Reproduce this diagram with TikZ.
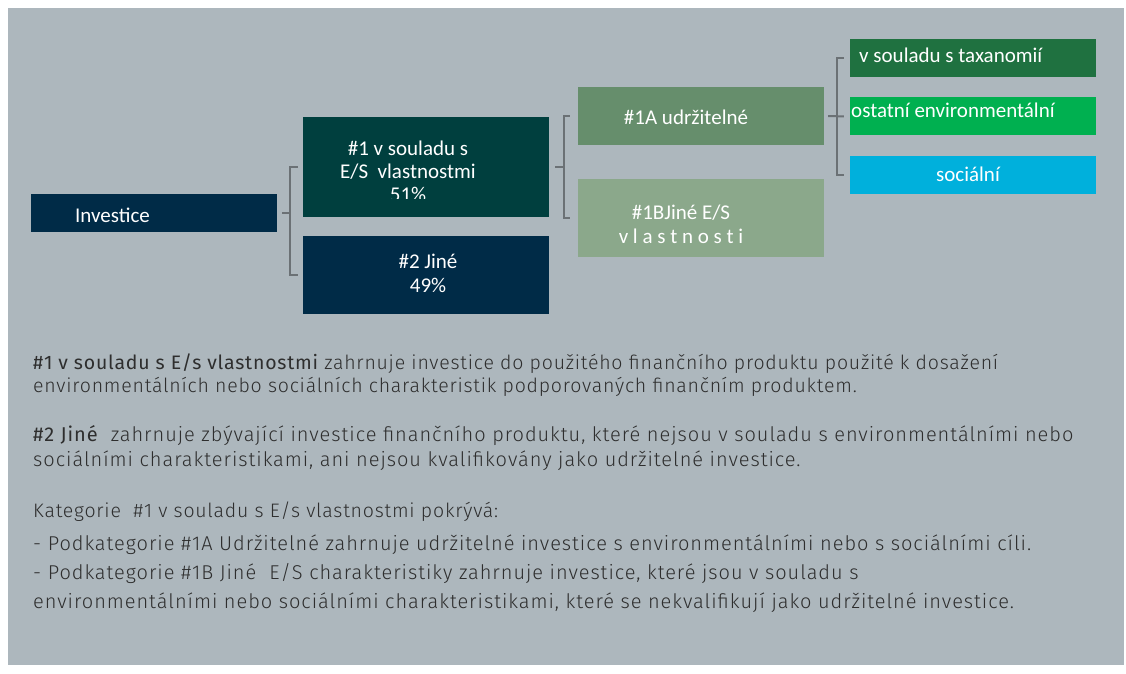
\documentclass[tikz,border=0pt]{standalone}
\usepackage{fontspec}
\setmainfont{Carlito}
\newfontfamily\bodyfont{Fira Sans Light}[LetterSpace=4.8]
\newfontfamily\bodymed{Fira Sans}[LetterSpace=4.8]
\newfontfamily\bodyfontsm{Fira Sans Light}[LetterSpace=4]
\newfontfamily\bodymedsm{Fira Sans}[LetterSpace=4]
\usetikzlibrary{positioning,calc}

\definecolor{bggray}{HTML}{ADB7BD}
\definecolor{navy}{HTML}{002B47}
\definecolor{darkteal}{HTML}{003F3E}
\definecolor{midgreen}{HTML}{668E6C}
\definecolor{palegreen}{HTML}{8BA88B}
\definecolor{taxgreen}{HTML}{1F7140}
\definecolor{envgreen}{HTML}{00B050}
\definecolor{socblue}{HTML}{00B0DC}
\definecolor{linkgray}{HTML}{6B7175}
\definecolor{bodytext}{HTML}{2E2E2E}

\tikzset{
  box/.style={rectangle, fill=#1, minimum width=246pt, inner sep=0pt},
  boxtext/.style={text=white, inner sep=0pt, align=center, font=\fontsize{21}{23}\selectfont},
  link/.style={draw=linkgray, line width=2pt},
  bodyline/.style={anchor=base west, inner sep=0pt, text=bodytext, font=\bodyfont\fontsize{20}{23}\selectfont},
  bodysmall/.style={bodyline, font=\bodyfontsm\fontsize{19.5}{23}\selectfont}
}

\begin{document}
\begin{tikzpicture}[x=1pt,y=-1pt]
  \useasboundingbox (0,0) rectangle (1126,673);
  \fill[bggray] (8,8) rectangle (1124,665);

  % boxes
  \node[box=navy, minimum height=38pt] (inv) at (154,213) {};
  \node[box=darkteal, minimum height=100pt] (es) at (426,167) {};
  \node[box=navy, minimum height=78pt] (jine) [below=19pt of es] {};
  \node[box=midgreen, minimum height=58pt] (a1) at (701,116) {};
  \node[box=palegreen, minimum height=78pt] (b1) [below=34pt of a1] {};
  \node[box=taxgreen, minimum height=38pt] (tax) at (973,58) {};
  \node[box=envgreen, minimum height=38pt] (env) [below=20pt of tax] {};
  \node[box=socblue, minimum height=38pt] (soc) [below=20pt of env] {};

  % box texts (base = last line)
  \node[boxtext, anchor=base west] (inv-t) at (75,222) {Investice};
  \begin{scope}
    \clip (303,117) rectangle (549,198);
    \node[boxtext, anchor=base] (es-t) at (408,201) {\#1 v souladu s\\E/S\ \ vlastnostmi\\51\%};
  \end{scope}
  \node[boxtext, anchor=base, font=\fontsize{21}{24}\selectfont] (jine-t) at (428,292) {\#2 Jiné\\49\%};
  \node[boxtext, anchor=base] (a1-t) at (686,124) {\#1A udržitelné};
  \node[boxtext, anchor=base, font=\fontsize{21}{24}\selectfont] (b1-t) at (681,243) {\#1BJiné E/S\\v l a s t n o s t i};
  \node[boxtext, anchor=base west] (tax-t) at (859,62) {v souladu s taxanomií};
  \node[boxtext, anchor=base west] (env-t) at (851,117) {ostatní environmentální};
  \node[boxtext, anchor=base] (soc-t) at (968,181) {sociální};

  % brackets
  \coordinate (j1) at ($(inv.east)!0.5!(es.west |- inv.east)$);
  \coordinate (j2) at ($(es.east)!0.5!(a1.west |- es.east)$);
  \coordinate (j3) at ($(a1.east)!0.5!(env.west)$);
  \draw[link] ([xshift=5pt]inv.east) -- (j1);
  \draw[link] ([xshift=-5pt]es.west) -| (j1) |- ([xshift=-5pt]jine.west);
  \draw[link] ([xshift=6pt]es.east) -- (j2);
  \draw[link] ([xshift=-8pt]a1.west) -| (j2) |- ([xshift=-8pt]b1.west);
  \draw[link] ([xshift=4pt]a1.east) -- ([xshift=-6pt]env.west);
  \draw[link] ([xshift=-6pt]tax.west) -| (j3) |- ([xshift=-6pt]soc.west);

  % legend text
  \node[bodysmall] (p1a) at (33,369) {{\bodymedsm\#1 v souladu s E/s vlastnostmi} zahrnuje investice do použitého finančního produktu použité k dosažení};
  \node[bodysmall] (p1b) at (33,392.5) {environmentálních nebo sociálních charakteristik podporovaných finančním produktem.};
  \node[bodyline] (p2a) at (33,441.5) {{\bodymed\#2 Jiné}\ \ zahrnuje zbývající investice finančního produktu, které nejsou v souladu s environmentálními nebo};
  \node[bodyline] (p2b) at (33,466) {sociálními charakteristikami, ani nejsou kvalifikovány jako udržitelné investice.};
  \node[bodysmall] (kat) at (33,517.5) {Kategorie\ \ \#1 v souladu s E/s vlastnostmi pokrývá:};
  \node[bodyline] (sub1) at (33,550.5) {- Podkategorie \#1A Udržitelné zahrnuje udržitelné investice s environmentálními nebo s sociálními cíli.};
  \node[bodyline] (sub2a) at (33,579) {- Podkategorie \#1B Jiné\ \ E/S charakteristiky zahrnuje investice, které jsou v souladu s};
  \node[bodyline] (sub2b) at (33,608) {environmentálními nebo sociálními charakteristikami, které se nekvalifikují jako udržitelné investice.};
\end{tikzpicture}
\end{document}
